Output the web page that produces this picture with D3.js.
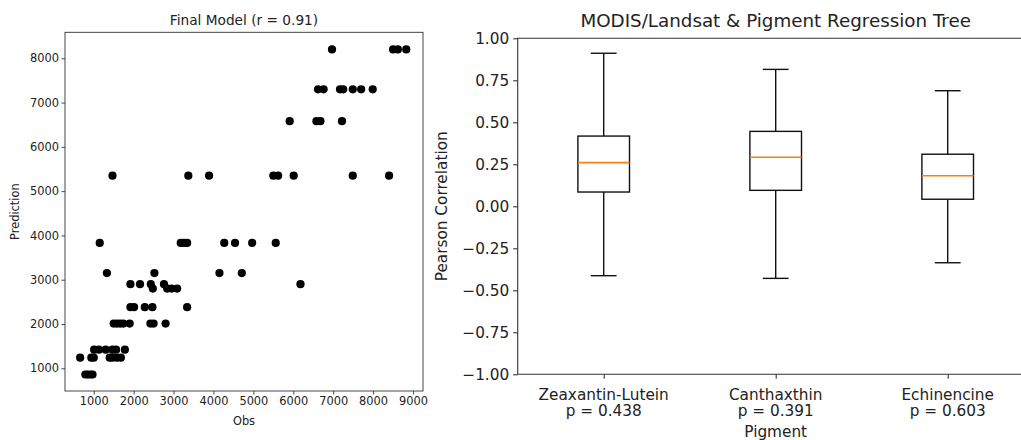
<!DOCTYPE html>
<html>
<head>
<meta charset="utf-8">
<script src="https://cdn.jsdelivr.net/npm/d3@7"></script>
<style>
  body { margin: 0; background: #fff; }
  svg text { font-family: "DejaVu Sans", sans-serif; fill: #222; }
</style>
</head>
<body>
<svg id="chart" width="1021" height="440"></svg>
<script>
// observed vs predicted, grouped by the tree's predicted levels
const obs = [
  6970, 8500, 8620, 8830,
  6620, 6760, 7170, 7250, 7490, 7700, 7990,
  5910, 6580, 6680, 7220,
  1470, 3370, 3890, 5500, 5620, 6010, 7490, 8400,
  1150, 3180, 3260, 3340, 4270, 4540, 4970, 5560,
  1330, 2520, 4150, 4710,
  1920, 2160, 2430, 2760, 6180,
  2480, 2840, 2950, 3090,
  1920, 2010, 2280, 2470, 3340,
  1500, 1580, 1660, 1740, 1900, 2420, 2500, 2800,
  1010, 1130, 1300, 1470, 1560, 1780,
  660, 940, 1000, 1400, 1470, 1580, 1680,
  790, 850, 920, 970
];
const pred = [
  8200, 8200, 8200, 8200,
  7300, 7300, 7300, 7300, 7300, 7300, 7300,
  6580, 6580, 6580, 6580,
  5350, 5350, 5350, 5350, 5350, 5350, 5350, 5350,
  3830, 3830, 3830, 3830, 3830, 3830, 3830, 3830,
  3150, 3150, 3150, 3150,
  2900, 2900, 2900, 2900, 2900,
  2800, 2800, 2800, 2800,
  2380, 2380, 2380, 2380, 2380,
  2010, 2010, 2010, 2010, 2010, 2010, 2010, 2010,
  1420, 1420, 1420, 1420, 1420, 1420,
  1240, 1240, 1240, 1240, 1240, 1240, 1240,
  860, 860, 860, 860
];
const obsTicks = [1000, 2000, 3000, 4000, 5000, 6000, 7000, 8000, 9000];
const predTicks = [1000, 2000, 3000, 4000, 5000, 6000, 7000, 8000];

// box plot stats per pigment
const pigments = ['Zeaxantin-Lutein', 'Canthaxthin', 'Echinencine'];
const pValues = ['p = 0.438', 'p = 0.391', 'p = 0.603'];
const whiskerLow = [-0.413, -0.429, -0.336];
const q1 = [0.085, 0.095, 0.042];
const median = [0.260, 0.292, 0.182];
const q3 = [0.418, 0.446, 0.310];
const whiskerHigh = [0.911, 0.815, 0.688];
const corrTicks = [-1, -0.75, -0.5, -0.25, 0, 0.25, 0.5, 0.75, 1];

const svg = d3.select('#chart');

// ---------- left: scatter ----------
const L = { left: 65, right: 423, top: 32.3, bottom: 391 };
const x = d3.scaleLinear().domain([280, 9250]).range([L.left, L.right]);
const y = d3.scaleLinear().domain([487, 8587]).range([L.bottom, L.top]);

const left = svg.append('g');

left.append('g')
  .selectAll('circle')
  .data(obs.map((o, i) => [o, pred[i]]))
  .join('circle')
  .attr('cx', d => x(d[0]))
  .attr('cy', d => y(d[1]))
  .attr('r', 4.1)
  .attr('fill', '#000');

const xAxisL = left.append('g')
  .attr('transform', `translate(0,${L.bottom})`)
  .call(d3.axisBottom(x).tickValues(obsTicks).tickSize(3.5).tickPadding(2.5).tickFormat(d3.format('d')));
const yAxisL = left.append('g')
  .attr('transform', `translate(${L.left},0)`)
  .call(d3.axisLeft(y).tickValues(predTicks).tickSize(3.5).tickPadding(2.5).tickFormat(d3.format('d')));
[xAxisL, yAxisL].forEach(a => {
  a.select('.domain').remove();
  a.selectAll('line').attr('stroke', '#333').attr('stroke-width', 0.9);
  a.selectAll('text').style('font-size', '11.4px').attr('fill', '#333');
});

left.append('rect')
  .attr('x', L.left).attr('y', L.top)
  .attr('width', L.right - L.left).attr('height', L.bottom - L.top)
  .attr('fill', 'none').attr('stroke', '#333').attr('stroke-width', 0.9);

left.append('text')
  .attr('x', (L.left + L.right) / 2).attr('y', 25)
  .attr('text-anchor', 'middle').style('font-size', '13.7px')
  .text('Final Model (r = 0.91)');
left.append('text')
  .attr('x', (L.left + L.right) / 2).attr('y', 424.5)
  .attr('text-anchor', 'middle').style('font-size', '11.4px')
  .text('Obs');
left.append('text')
  .attr('transform', `translate(19,${(L.top + L.bottom) / 2}) rotate(-90)`)
  .attr('text-anchor', 'middle').style('font-size', '11.4px')
  .text('Prediction');

// ---------- right: box plot ----------
const R = { left: 517.7, right: 1033.7, top: 38.3, bottom: 374.3 };
const bx = d3.scaleLinear().domain([0.5, 3.5]).range([R.left, R.right]);
const by = d3.scaleLinear().domain([-1, 1]).range([R.bottom, R.top]);
const boxW = bx(1.3) - bx(1);   // matplotlib default width 0.3 here
const capW = boxW / 2;

const right = svg.append('g');

const yAxisR = right.append('g')
  .attr('transform', `translate(${R.left},0)`)
  .call(d3.axisLeft(by).tickValues(corrTicks).tickSize(4.5).tickPadding(4)
    .tickFormat(d => d3.format('.2f')(d).replace('-', '\u2212')));
yAxisR.select('.domain').remove();
yAxisR.selectAll('line').attr('stroke', '#333').attr('stroke-width', 1.1);
yAxisR.selectAll('text').style('font-size', '15.3px').attr('fill', '#222');

const xAxisR = right.append('g')
  .attr('transform', `translate(0,${R.bottom})`)
  .call(d3.axisBottom(bx).tickValues([1, 2, 3]).tickSize(4.5).tickFormat(''));
xAxisR.select('.domain').remove();
xAxisR.selectAll('line').attr('stroke', '#333').attr('stroke-width', 1.1);

// spines (right one falls outside the picture)
right.append('path')
  .attr('d', `M${R.right},${R.top}H${R.left}V${R.bottom}H${R.right}`)
  .attr('fill', 'none').attr('stroke', '#333').attr('stroke-width', 1.1);

const boxes = right.append('g')
  .selectAll('g')
  .data(pigments.map((p, i) => ({ p, i, pos: i + 1 })))
  .join('g');

boxes.append('line')
  .attr('x1', d => bx(d.pos)).attr('x2', d => bx(d.pos))
  .attr('y1', d => by(whiskerLow[d.i])).attr('y2', d => by(q1[d.i]))
  .attr('stroke', '#111').attr('stroke-width', 1.4);
boxes.append('line')
  .attr('x1', d => bx(d.pos)).attr('x2', d => bx(d.pos))
  .attr('y1', d => by(q3[d.i])).attr('y2', d => by(whiskerHigh[d.i]))
  .attr('stroke', '#111').attr('stroke-width', 1.4);
boxes.append('line')
  .attr('x1', d => bx(d.pos) - capW / 2).attr('x2', d => bx(d.pos) + capW / 2)
  .attr('y1', d => by(whiskerLow[d.i])).attr('y2', d => by(whiskerLow[d.i]))
  .attr('stroke', '#111').attr('stroke-width', 1.4);
boxes.append('line')
  .attr('x1', d => bx(d.pos) - capW / 2).attr('x2', d => bx(d.pos) + capW / 2)
  .attr('y1', d => by(whiskerHigh[d.i])).attr('y2', d => by(whiskerHigh[d.i]))
  .attr('stroke', '#111').attr('stroke-width', 1.4);
boxes.append('rect')
  .attr('x', d => bx(d.pos) - boxW / 2).attr('width', boxW)
  .attr('y', d => by(q3[d.i])).attr('height', d => by(q1[d.i]) - by(q3[d.i]))
  .attr('fill', 'none').attr('stroke', '#111').attr('stroke-width', 1.4);
boxes.append('line')
  .attr('x1', d => bx(d.pos) - boxW / 2).attr('x2', d => bx(d.pos) + boxW / 2)
  .attr('y1', d => by(median[d.i])).attr('y2', d => by(median[d.i]))
  .attr('stroke', '#ff7f0e').attr('stroke-width', 1.6);

// two-line category labels
boxes.append('text')
  .attr('x', d => bx(d.pos)).attr('y', 399.5)
  .attr('text-anchor', 'middle').style('font-size', '15.3px')
  .text(d => d.p);
boxes.append('text')
  .attr('x', d => bx(d.pos)).attr('y', 415.5)
  .attr('text-anchor', 'middle').style('font-size', '15.3px')
  .text(d => pValues[d.i]);

right.append('text')
  .attr('x', bx(2)).attr('y', 437)
  .attr('text-anchor', 'middle').style('font-size', '15.3px')
  .text('Pigment');
right.append('text')
  .attr('x', bx(2)).attr('y', 27)
  .attr('text-anchor', 'middle').style('font-size', '18.3px')
  .text('MODIS/Landsat & Pigment Regression Tree');
right.append('text')
  .attr('transform', `translate(447,${(R.top + R.bottom) / 2}) rotate(-90)`)
  .attr('text-anchor', 'middle').style('font-size', '15.3px')
  .text('Pearson Correlation');
</script>
</body>
</html>
